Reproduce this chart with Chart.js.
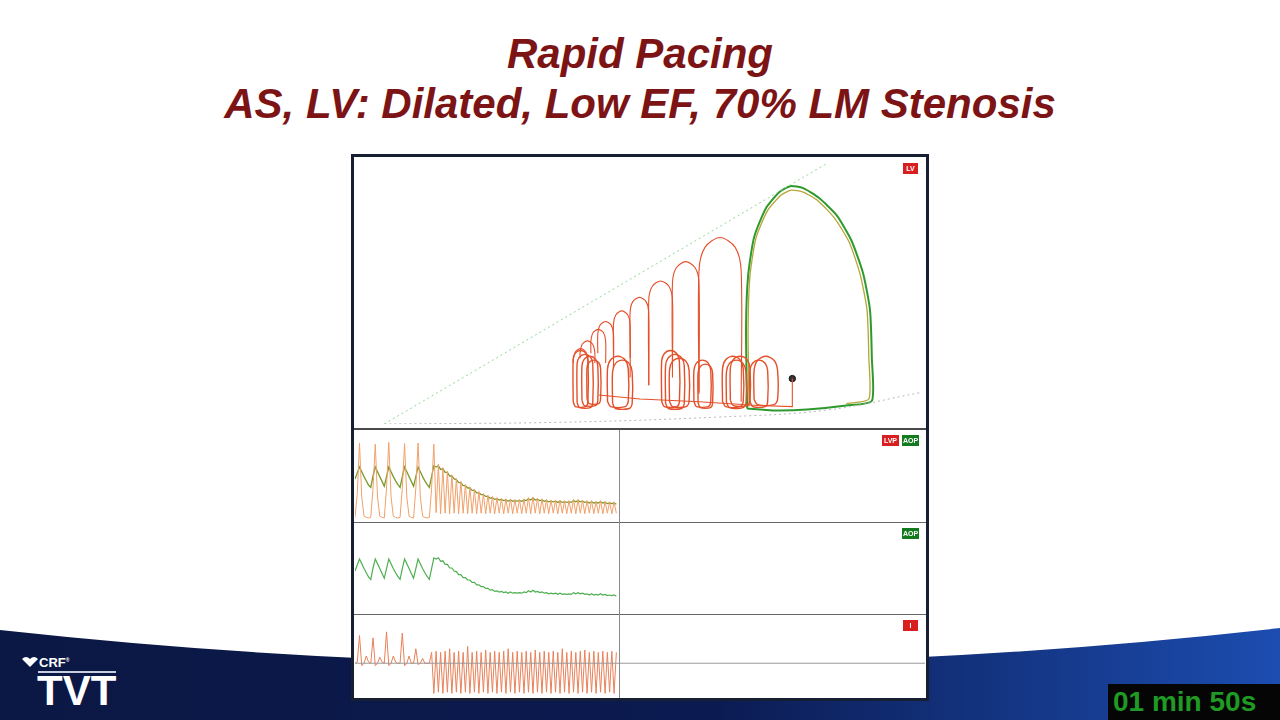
<!DOCTYPE html>
<html>
<head>
<meta charset="utf-8">
<title>Rapid Pacing</title>
<script src="https://cdn.jsdelivr.net/npm/chart.js"></script>
<style>
  body { margin: 0; width: 1280px; height: 720px; position: relative; overflow: hidden; background: #fff; font-family: "Liberation Sans", Arial, sans-serif; }
  .abs { position: absolute; }
  .title { left: 0; width: 1280px; text-align: center; color: #7c1416; font-weight: bold; font-style: italic; font-size: 42px; white-space: nowrap; }
  #panel { left: 351px; top: 154px; width: 578px; height: 547px; box-sizing: border-box; border: 3px solid #172033; background: #fff; }
  canvas { position: absolute; }
  .hline { position: absolute; height: 0; }
  .tag { position: absolute; height: 11px; line-height: 11px; font-size: 7px; font-weight: bold; color: #fff; text-align: center; }
  .red { background: #d81e1e; }
  .green { background: #137a1e; }
</style>
</head>
<body>
<svg class="abs" style="left:0;top:0" width="1280" height="720">
  <defs>
    <linearGradient id="band" x1="0" y1="0" x2="1" y2="0">
      <stop offset="0" stop-color="#0b1844"/>
      <stop offset="0.55" stop-color="#0b1a50"/>
      <stop offset="1" stop-color="#1c4db0"/>
    </linearGradient>
  </defs>
  <path d="M0,630 Q640,700 1280,628 L1280,720 L0,720 Z" fill="url(#band)"/>
  <path d="M22,659 q4,-4 8,0 q4,-4 8,0 l-8,8 z" fill="#fff"/>
  <rect x="38" y="671" width="78" height="2" fill="#c8cde0"/>
  <rect x="1108" y="684" width="172" height="36" fill="#050505"/>
</svg>
<div class="abs" style="left:39px;top:655px;color:#fff;font-weight:bold;font-size:13px;">CRF<sup style="font-size:5px">®</sup></div>
<div class="abs" style="left:37px;top:670px;color:#fff;font-weight:bold;font-size:42px;line-height:42px;">TVT</div>
<div class="abs" style="left:1113px;top:684px;color:#1f9a22;font-weight:bold;font-size:28px;line-height:36px;">01 min 50s</div>

<div class="abs title" style="top:30px;">Rapid Pacing</div>
<div class="abs title" style="top:80px;">AS, LV: Dilated, Low EF, 70% LM Stenosis</div>

<div class="abs" id="panel"></div>
<canvas id="pv" width="570" height="271" style="left:355px;top:158px"></canvas>
<canvas id="s1" width="570" height="90" style="left:355px;top:431px"></canvas>
<canvas id="s2" width="570" height="90" style="left:355px;top:523px"></canvas>
<canvas id="s3" width="570" height="82" style="left:355px;top:615px"></canvas>

<div class="hline" style="left:354px;top:428px;width:572px;border-top:2px solid #4a4a4a"></div>
<div class="hline" style="left:354px;top:522px;width:572px;border-top:1px solid #666"></div>
<div class="hline" style="left:354px;top:614px;width:572px;border-top:1px solid #666"></div>
<div class="abs" style="left:619px;top:430px;width:0;height:268px;border-left:1px solid #8a8a8a"></div>

<div class="tag red" style="left:903px;top:163px;width:15px">LV</div>
<div class="tag red" style="left:882px;top:435px;width:17px">LVP</div>
<div class="tag green" style="left:902px;top:435px;width:17px">AOP</div>
<div class="tag green" style="left:902px;top:528px;width:17px">AOP</div>
<div class="tag red" style="left:903px;top:620px;width:15px">I</div>

<script>
// ---- PV loop (volume mL, pressure mmHg) ----
const espvr = [[13, 0], [250.5, 150]];
const edpvr = [[13, 0], [107, 1], [192, 4], [250, 8], [300, 18]];
const steadyLoop = [[207.4,8.9],[206.8,54.4],[207.9,85],[211.1,107.2],[217.4,123.9],[224.7,133.3],[230.5,136.7],[237.4,135.6],
  [245.8,130],[255.3,120],[263.2,105.6],[269.5,86.7],[273.2,65.6],[274.2,37.8],[274.2,13.3],[260.5,10.6],[239.5,8.3],[221.1,7.8],[207.4,8.9]];
const steadyLoop2 = [[208.4,10],[207.9,54.4],[208.9,85],[212.1,106.7],[218.4,122.8],[225.8,131.7],[231.1,134.4],[237.4,133.3],
  [245.3,128.3],[254.2,118.3],[262.1,104.4],[267.9,86.1],[271.6,65.6],[272.6,37.8],[272.6,14.4],[260.5,11.7]];
// transition beats: [left vol, right vol, peak, left foot, right foot]
const archBeats = [
  [181.6, 204.2, 107.2, 17.2, 12.8],
  [167.4, 181.6, 93.3, 26.7, 18.3],
  [154.7, 167.4, 82.2, 22.2, 32.2],
  [144.7, 154.7, 72.8, 37.8, 22.2],
  [135.8, 144.7, 65.0, 37.8, 26.7],
  [127.4, 135.8, 58.9, 40.6, 32.2],
  [123.7, 131.6, 54.4, 40.6, 35.0],
  [117.9, 125.8, 47.8, 37.8, 35.0],
  [114.2, 122.1, 43.3, 35.0, 32.2]
];
// paced beats: [left vol, right vol, peak, floor]
const pacedBeats = [
  [114.2, 122.1, 42.2, 10], [116.3, 124.7, 40, 9.4], [118.9, 127.4, 38.9, 10.6], [121.6, 128.9, 36.7, 11.7],
  [132.6, 143.7, 38.9, 10], [135.3, 145.8, 36.7, 8.9],
  [161.6, 171.1, 42.2, 10], [163.7, 173.7, 40, 8.9], [165.8, 176.3, 37.8, 10],
  [178.9, 187.9, 36.7, 10], [181.1, 188.9, 34.4, 9.4],
  [194.2, 205.3, 38.9, 10], [196.3, 206.8, 36.7, 9.4], [198.4, 208.9, 38.9, 10.6],
  [208.9, 218.4, 36.7, 10], [211.1, 223.7, 38.9, 11.1]
];
const pacingPath = [[127.9,16.7],[150,14.4],[181.6,12.8],[213.2,10.6],[231.6,10],[231.6,26.1]];
const endPoint = [[231.6, 26.1]];

// ---- strips: one sample every 2.25 px, left half only ----
const lvp = [6,45,130,40,8,6,5,6,55,128,40,8,6,5,55,131,40,8,6,5,6,55,129,40,8,6,5,55,130,40,8,6,5,6,55,128,
  14,95,12,89,13,83,12,77,13,71,12,66,13,61,12,57,13,53,12,49,13,46,12,43,13,41,12,39,13,38,12,37,13,37,12,36,
  13,36,12,37,13,39,12,40,13,38,12,37,13,36,12,35,13,35,12,35,13,34,12,34,13,36,12,36,13,35,12,34,13,34,12,33,
  13,34,12,33,13,32,12,32,13];
const aop = [70,80,90,82,74,67,60,56,75,90,82,74,66,58,74,90,82,74,67,61,56,74,90,82,74,66,58,74,90,82,74,67,61,56,74,92,
  90,92,86,87,81,81,75,75,70,69,64,64,59,59,55,55,51,51,47,47,44,44,41,41,38,39,36,37,35,36,
  34,35,33,35,33,34,33,34,33,35,34,37,35,38,35,36,34,35,33,34,32,33,32,33,31,33,31,32,31,32,
  31,34,32,34,32,33,31,32,30,32,30,31,30,32,30,31,29,30,29,30,28];
const ecg = [0,0.05,1.15,-0.1,0,0.3,0.05,0,1.05,-0.1,0,0.25,0.05,0,1.3,-0.1,0,0.3,0.05,0,0,1.25,-0.1,0,0.3,0,0,0.6,-0.05,0,0.2,0,0,0,
  0.45,-1.25,0.5,-1.2,0.45,-1.25,0.5,-1.2,0.6,-1.25,0.45,-1.2,0.5,-1.25,0.45,-1.2,0.7,-1.25,0.45,-1.2,
  0.5,-1.25,0.45,-1.2,0.55,-1.25,0.45,-1.2,0.5,-1.25,0.45,-1.2,0.5,-1.25,0.6,-1.2,0.45,-1.25,0.5,-1.2,
  0.45,-1.25,0.5,-1.2,0.45,-1.25,0.55,-1.2,0.45,-1.25,0.5,-1.2,0.45,-1.25,0.5,-1.2,0.45,-1.25,0.6,-1.2,
  0.45,-1.25,0.5,-1.2,0.45,-1.25,0.5,-1.2,0.55,-1.25,0.45,-1.2,0.5,-1.25,0.45,-1.2,0.5,-1.25,0.45,-1.2,
  0.5,-1.25,0.45];
const stripSamples = 253;   // full sweep width in samples

const RED = '#e4502a';

function xy(pairs) { return pairs.map(p => ({ x: p[0], y: p[1] })); }

// open arch: foot, up the left side, rounded top, down the right side
function archPoints(b) {
  const [L, R, T, bl, br] = b;
  const mid = (L + R) / 2, r = (R - L) / 2, ry = r * 1.7, sh = T - ry;
  return [[L, bl], [L, sh], [mid - 0.71 * r, sh + 0.71 * ry], [mid, T], [mid + 0.71 * r, sh + 0.71 * ry], [R, sh], [R, br]];
}
// closed paced loop
function loopPoints(b) {
  const [L, R, T, B] = b;
  const mid = (L + R) / 2, r = (R - L) / 2, ry = r * 1.3, sh = T - ry;
  return [[L, B + 3], [L, sh], [mid - 0.71 * r, sh + 0.71 * ry], [mid, T], [mid + 0.71 * r, sh + 0.71 * ry], [R, sh], [R, B + 3], [R - 0.3 * r, B], [L + 0.3 * r, B], [L, B + 3]];
}

function line(data, color, width, extra) {
  return Object.assign({ data: xy(data), showLine: true, borderColor: color, borderWidth: width, pointRadius: 0, fill: false, tension: 0 }, extra || {});
}

const pvSets = [
  line(espvr, '#8fd98f', 1, { borderDash: [2, 3] }),
  line(edpvr, '#b8b8b8', 1, { borderDash: [2, 3], tension: 0.4 })
];
archBeats.forEach(b => pvSets.push(line(archPoints(b), RED, 1.1, { tension: 0.3 })));
pacedBeats.forEach(b => pvSets.push(line(loopPoints(b), RED, 1.4, { tension: 0.3 })));
pvSets.push(line(pacingPath, RED, 1.1));
pvSets.push(line(steadyLoop2, '#b4a636', 1.3, { tension: 0.2 }));
pvSets.push(line(steadyLoop, '#2e9a2e', 2, { tension: 0.2 }));
pvSets.push({ data: xy(endPoint), showLine: false, pointRadius: 3.2, pointBackgroundColor: '#333', pointBorderColor: '#111', borderWidth: 1 });

const baseOpts = {
  responsive: false, animation: false,
  layout: { padding: 0 },
  plugins: { legend: { display: false }, tooltip: { enabled: false } },
  elements: { point: { radius: 0 } }
};

new Chart(document.getElementById('pv'), {
  type: 'scatter',
  data: { datasets: pvSets },
  options: Object.assign({}, baseOpts, {
    scales: {
      x: { type: 'linear', min: 0, max: 300, display: false },
      y: { type: 'linear', min: 0, max: 150, display: false }
    }
  })
});

function series(values) { return values.map((v, i) => ({ x: i, y: v })); }

function strip(id, sets, ymin, ymax) {
  new Chart(document.getElementById(id), {
    type: 'line',
    data: { datasets: sets.map(s => ({ data: series(s.values), borderColor: s.color, borderWidth: s.width, pointRadius: 0, tension: 0, fill: false })) },
    options: Object.assign({}, baseOpts, {
      scales: {
        x: { type: 'linear', min: 0, max: stripSamples, display: false },
        y: { min: ymin, max: ymax, display: false }
      }
    })
  });
}

strip('s1', [
  { values: lvp, color: '#f1a06a', width: 1 },
  { values: aop, color: '#7a9a2a', width: 1.3 }
], 0, 150);
strip('s2', [{ values: aop, color: '#4caf50', width: 1.2 }], 0, 150);

new Chart(document.getElementById('s3'), {
  type: 'line',
  data: { datasets: [
    { data: [{ x: 0, y: 0 }, { x: stripSamples, y: 0 }], borderColor: '#9a9a9a', borderWidth: 1, pointRadius: 0 },
    { data: series(ecg), borderColor: '#e8815a', borderWidth: 1, pointRadius: 0, tension: 0 }
  ] },
  options: Object.assign({}, baseOpts, {
    scales: {
      x: { type: 'linear', min: 0, max: stripSamples, display: false },
      y: { min: -1.4, max: 2.0, display: false }
    }
  })
});
</script>
</body>
</html>
